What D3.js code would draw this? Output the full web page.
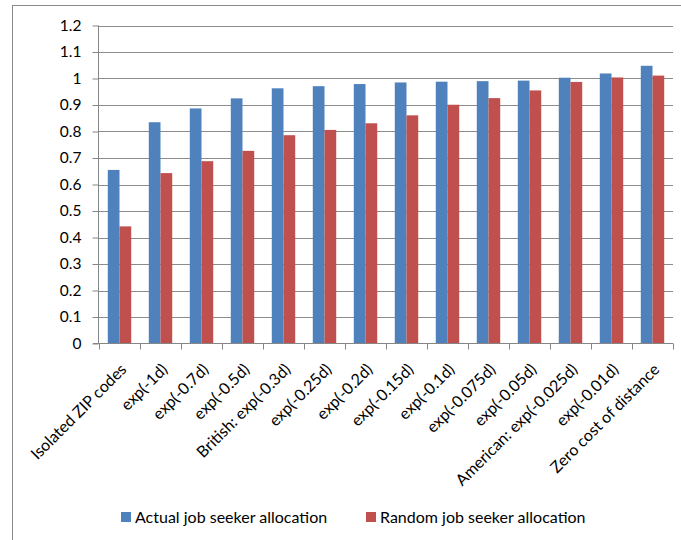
<!DOCTYPE html>
<html>
<head>
<meta charset="utf-8">
<script src="https://cdn.jsdelivr.net/npm/d3@7"></script>
<style>
  html, body { margin: 0; padding: 0; background: #fff; }
  svg { display: block; }
  text { font-family: Lato, "Open Sans", sans-serif; fill: #000; }
</style>
</head>
<body>
<svg id="chart" width="681" height="540"></svg>
<script>
// Job-matching outcomes under different distance-decay assumptions
const categories = [
  "Isolated ZIP codes", "exp(-1d)", "exp(-0.7d)", "exp(-0.5d)",
  "British: exp(-0.3d)", "exp(-0.25d)", "exp(-0.2d)", "exp(-0.15d)",
  "exp(-0.1d)", "exp(-0.075d)", "exp(-0.05d)", "American: exp(-0.025d)",
  "exp(-0.01d)", "Zero cost of distance"
];
const actualValues = [0.655, 0.835, 0.887, 0.925, 0.963, 0.971, 0.979, 0.985, 0.988, 0.990, 0.992, 1.003, 1.019, 1.048];
const randomValues = [0.442, 0.643, 0.688, 0.727, 0.786, 0.806, 0.831, 0.861, 0.901, 0.926, 0.955, 0.987, 1.004, 1.011];
const seriesNames = ["Actual job seeker allocation", "Random job seeker allocation"];
const seriesColors = ["#4f81bd", "#c0504d"];
const yTicks = [0, 0.1, 0.2, 0.3, 0.4, 0.5, 0.6, 0.7, 0.8, 0.9, 1, 1.1, 1.2];

const series = [actualValues, randomValues];

const svg = d3.select("#chart");
const plot = { left: 99, right: 673, top: 25.5, bottom: 343.5 };
const tickFont = 15.5;
const labelFont = 16;
const legendFont = 16;

// outer chart frame (only left/top edges fall inside the view)
svg.append("rect")
  .attr("x", 12.5).attr("y", 5.5)
  .attr("width", 700).attr("height", 560)
  .attr("fill", "none").attr("stroke", "#8a8a8a").attr("stroke-width", 1);

const x = d3.scaleBand().domain(categories).range([plot.left, plot.right]).padding(0);
const barW = x.bandwidth() / 3.5;
const xInner = d3.scaleBand().domain(d3.range(series.length))
  .range([0, barW * series.length]);
const y = d3.scaleLinear().domain([0, 1.2]).range([plot.bottom, plot.top]);

// horizontal gridlines
svg.append("g")
  .selectAll("line")
  .data(yTicks.filter(t => t > 0))
  .join("line")
  .attr("x1", plot.left).attr("x2", plot.right)
  .attr("y1", d => Math.round(y(d)) + 0.5).attr("y2", d => Math.round(y(d)) + 0.5)
  .attr("stroke", "#8c8c8c").attr("stroke-width", 1);

// bars
const groups = svg.append("g")
  .selectAll("g")
  .data(categories)
  .join("g")
  .attr("transform", d => `translate(${x(d) + (x.bandwidth() - barW * series.length) / 2},0)`);

groups.selectAll("rect")
  .data((d, i) => series.map((s, k) => ({ k, v: s[i] })))
  .join("rect")
  .attr("x", d => xInner(d.k))
  .attr("width", xInner.bandwidth())
  .attr("y", d => y(d.v))
  .attr("height", d => y(0) - y(d.v))
  .attr("fill", d => seriesColors[d.k]);

// y axis
const yAxis = d3.axisLeft(y)
  .tickValues(yTicks)
  .tickSize(6)
  .tickPadding(11)
  .tickFormat(d => d3.format("")(+d.toFixed(1)));
const yg = svg.append("g")
  .attr("transform", `translate(${plot.left - 0.5},0)`)
  .call(yAxis);
yg.selectAll("path, line").attr("stroke", "#868686");
yg.select(".domain").attr("d", `M0,${plot.top}V${plot.bottom}`);
yg.selectAll("text").attr("font-size", tickFont).attr("font-family", "Lato, sans-serif").attr("fill", "#000");

// x axis with ticks at category boundaries
const xg = svg.append("g").attr("transform", `translate(0,${plot.bottom})`);
xg.append("line")
  .attr("x1", plot.left - 6).attr("x2", plot.right)
  .attr("y1", 0).attr("y2", 0)
  .attr("stroke", "#868686");
xg.selectAll("line.tick")
  .data(categories.map(c => x(c)).concat([plot.right]))
  .join("line")
  .attr("class", "tick")
  .attr("x1", d => Math.round(d) + 0.5).attr("x2", d => Math.round(d) + 0.5)
  .attr("y1", 0).attr("y2", 6)
  .attr("stroke", "#868686");

xg.selectAll("text")
  .data(categories)
  .join("text")
  .attr("text-anchor", "end")
  .attr("font-size", labelFont)
  .attr("transform", d => `translate(${x(d) + x.bandwidth() / 2 + 8},${27}) rotate(-45)`)
  .text(d => d);

// legend
const legend = svg.append("g").attr("transform", "translate(0,517)");
const legendX = [121, 366];
seriesNames.forEach((name, i) => {
  legend.append("rect")
    .attr("x", legendX[i]).attr("y", -5)
    .attr("width", 10).attr("height", 10)
    .attr("fill", seriesColors[i]);
  legend.append("text")
    .attr("x", legendX[i] + 14).attr("y", 0)
    .attr("dy", "0.36em")
    .attr("font-size", legendFont)
    .text(name);
});
</script>
</body>
</html>
